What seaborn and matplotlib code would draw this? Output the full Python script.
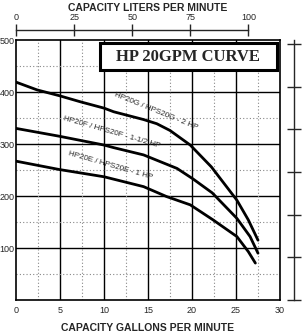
import numpy as np
import pandas as pd
import seaborn as sns
import matplotlib
matplotlib.use("Agg")
import matplotlib.pyplot as plt
from matplotlib.patches import Rectangle

# pump curves: flow (US gpm) vs head (ft)
flow_g = [0, 2.4, 4.9, 7.35, 10.0, 11.1, 14.5, 16.0, 17.5, 19.8, 22.2, 25.1, 26.4, 27.5]
head_g = [419, 404, 393, 381, 369, 362, 347, 339, 326, 298, 256, 192, 154, 115]
flow_f = [0, 4.9, 10.0, 11.1, 14.5, 18.3, 20.1, 22.3, 25.1, 26.6, 27.5]
head_f = [330, 315, 298, 293, 279, 253, 233, 206, 157, 122, 90]
flow_e = [0, 4.9, 10.0, 14.5, 17.1, 19.8, 22.4, 25.1, 26.4, 27.2]
head_e = [267, 251, 237, 218, 199, 183, 154, 122, 93, 71]

models = ["HP20G / HPS20G - 2 HP", "HP20F / HPS20F - 1-1/2 HP", "HP20E / HPS20E - 1 HP"]

df = pd.concat([
    pd.DataFrame({"gpm": flow_g, "ft": head_g, "model": models[0]}),
    pd.DataFrame({"gpm": flow_f, "ft": head_f, "model": models[1]}),
    pd.DataFrame({"gpm": flow_e, "ft": head_e, "model": models[2]}),
])

sns.set_style("white")
plt.rcParams["font.family"] = ["Liberation Sans", "DejaVu Sans"]

fig = plt.figure(figsize=(3.04, 3.33), dpi=100)
ax = fig.add_axes([16 / 304, 1 - 300 / 333, 264 / 304, 260 / 333])

# grid: solid majors, dotted minors
for x in [5, 10, 15, 20, 25]:
    ax.axvline(x, color="black", lw=1.0, zorder=1)
for y in [100, 200, 300, 400]:
    ax.axhline(y, color="black", lw=1.0, zorder=1)
for x in [2.5, 7.5, 12.5, 17.5, 22.5, 27.5]:
    ax.axvline(x, color="#888888", lw=0.8, ls=(0, (1, 2)), zorder=1)
for y in [50, 150, 250, 350, 450]:
    ax.axhline(y, color="#888888", lw=0.8, ls=(0, (1, 2)), zorder=1)

sns.lineplot(data=df, x="gpm", y="ft", hue="model", palette=["black"] * 3,
             lw=2.0, legend=False, ax=ax, zorder=3, sort=False)

ax.set_xlim(0, 30)
ax.set_ylim(0, 500)
ax.set_xticks([0, 5, 10, 15, 20, 25, 30])
ax.set_yticks([100, 200, 300, 400, 500])
ax.tick_params(axis="x", length=0, labelsize=6.5, pad=4)
ax.tick_params(axis="y", length=0, labelsize=6.5, pad=1)
ax.set_xlabel("CAPACITY GALLONS PER MINUTE", fontsize=7.5, fontweight="bold", labelpad=6)
ax.set_ylabel("")
for s in ax.spines.values():
    s.set_color("black")
    s.set_linewidth(1.2)

# curve labels
ax.text(15.9, 363, models[0], rotation=-22, fontsize=5.8, ha="center", va="center", zorder=4)
ax.text(10.9, 323, models[1], rotation=-16, fontsize=5.8, ha="center", va="center", zorder=4)
ax.text(10.7, 259, models[2], rotation=-16, fontsize=5.8, ha="center", va="center", zorder=4)

# title box
ax.add_patch(Rectangle((0.318, 0.885), 0.671, 0.103, transform=ax.transAxes,
                       facecolor="white", edgecolor="black", lw=2.2, zorder=5))
ax.text(0.652, 0.935, "HP 20GPM CURVE", transform=ax.transAxes, ha="center", va="center",
        fontsize=12, fontweight="bold", family=["Liberation Serif", "DejaVu Serif"], zorder=6)

# top axis: liters per minute
top = ax.secondary_xaxis(1 + 10 / 260, functions=(lambda g: g * 3.785, lambda l: l / 3.785))
top.set_xticks([0, 25, 50, 75, 100])
top.tick_params(direction="inout", length=9, width=1.0, labelsize=6.5, pad=1.5)
top.spines["top"].set_bounds(0, 100)
top.spines["top"].set_linewidth(1.0)
top.set_xlabel("CAPACITY LITERS PER MINUTE", fontsize=7.5, fontweight="bold", labelpad=1.5)

# right axis: meters
right = ax.secondary_yaxis(1 + 14 / 264, functions=(lambda f: f * 0.3048, lambda m: m / 0.3048))
right.set_yticks([0, 25, 50, 75, 100, 125, 150])
right.tick_params(direction="inout", length=10, width=1.0, labelright=False)
right.spines["right"].set_linewidth(1.0)

fig.savefig("out.png", dpi=100)
